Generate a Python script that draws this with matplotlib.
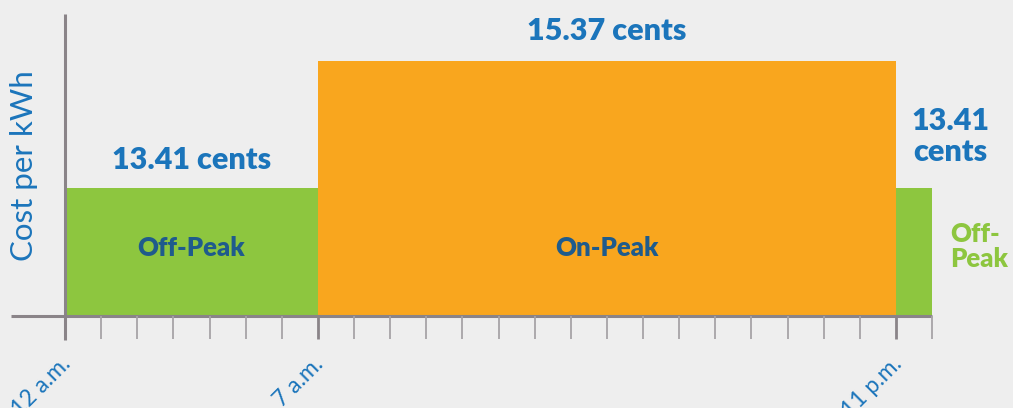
import matplotlib
matplotlib.use("Agg")
import matplotlib.pyplot as plt

# Data
period_labels = ["Off-Peak", "On-Peak", "Off-Peak"]
period_start_hours = [0, 7, 23]
period_end_hours = [7, 23, 24]
price_cents = [13.41, 15.37, 13.41]
price_labels = ["13.41 cents", "15.37 cents", "13.41\ncents"]
tick_hours = [0, 7, 23]
tick_labels = ["12 a.m.", "7 a.m.", "11 p.m."]
hours = list(range(0, 25))

BG = "#eeeeee"
GREEN = "#8dc63f"
ORANGE = "#f9a61e"
BLUE = "#1b75bb"
DARK = "#1f5b8c"
AXIS = "#8a8488"
MINOR = "#a7a3a6"

plt.rcParams["font.family"] = ["Lato", "DejaVu Sans"]

fig = plt.figure(figsize=(10.13, 4.08), dpi=100, facecolor=BG)
ax = fig.add_axes([65 / 1013, 92 / 408, (932 - 65) / 1013, (394 - 92) / 408])
ax.set_facecolor(BG)

ymin, ymax = 11.43, 16.10
ax.set_xlim(0, 24)
ax.set_ylim(ymin, ymax)

colors = [GREEN, ORANGE, GREEN]
for s, e, v, c in zip(period_start_hours, period_end_hours, price_cents, colors):
    ax.bar(s, v - ymin, width=e - s, bottom=ymin, align="edge", color=c,
           linewidth=0, zorder=2)

for sp in ax.spines.values():
    sp.set_visible(False)

# axis lines
ax.plot([-1.5, 24], [ymin, ymin], color=AXIS, lw=2.2, clip_on=False, zorder=3,
        solid_capstyle="butt")
ax.plot([0, 0], [ymin - 0.37, ymax], color=AXIS, lw=2.2, clip_on=False, zorder=3,
        solid_capstyle="butt")

# hourly ticks
for h in hours:
    major = h in tick_hours
    ax.plot([h, h], [ymin, ymin - 0.36], color=AXIS if major else MINOR,
            lw=2.0 if major else 1.3, clip_on=False, zorder=3,
            solid_capstyle="butt")

ax.set_xticks([])
ax.set_yticks([])

# tick labels
for h, lab in zip(tick_hours, tick_labels):
    ax.annotate(lab, xy=(h, ymin), xytext=(-5, -37), textcoords="offset pixels",
                rotation=45, ha="right", va="top", color=BLUE, fontsize=16.5,
                fontweight="normal", rotation_mode="anchor",
                annotation_clip=False)

# y label
fig.text(24 / 1013, 1 - 166 / 408, "Cost per kWh", rotation=90, color=BLUE,
         fontsize=22.5, fontweight="normal", ha="center", va="center")

# price labels
ax.text(3.5, 13.41 + 0.43, price_labels[0], color=BLUE, fontsize=22,
        fontweight="heavy", ha="center", va="center")
ax.text(15, 15.37 + 0.47, price_labels[1], color=BLUE, fontsize=22,
        fontweight="heavy", ha="center", va="center")
ax.text(24.52, 13.41 + 0.79, price_labels[2], color=BLUE, fontsize=22,
        fontweight="heavy", ha="center", va="center", linespacing=1.12,
        clip_on=False)

# period labels
ax.text(3.5, 12.48, period_labels[0], color=DARK, fontsize=18.5,
        fontweight="heavy", ha="center", va="center")
ax.text(15, 12.48, period_labels[1], color=DARK, fontsize=18.5,
        fontweight="heavy", ha="center", va="center")
ax.text(24.5, 12.5, "Off-\nPeak", color=GREEN, fontsize=18.5,
        fontweight="heavy", ha="left", va="center", linespacing=1.05,
        clip_on=False)

fig.savefig("out.png", dpi=100, facecolor=BG)
